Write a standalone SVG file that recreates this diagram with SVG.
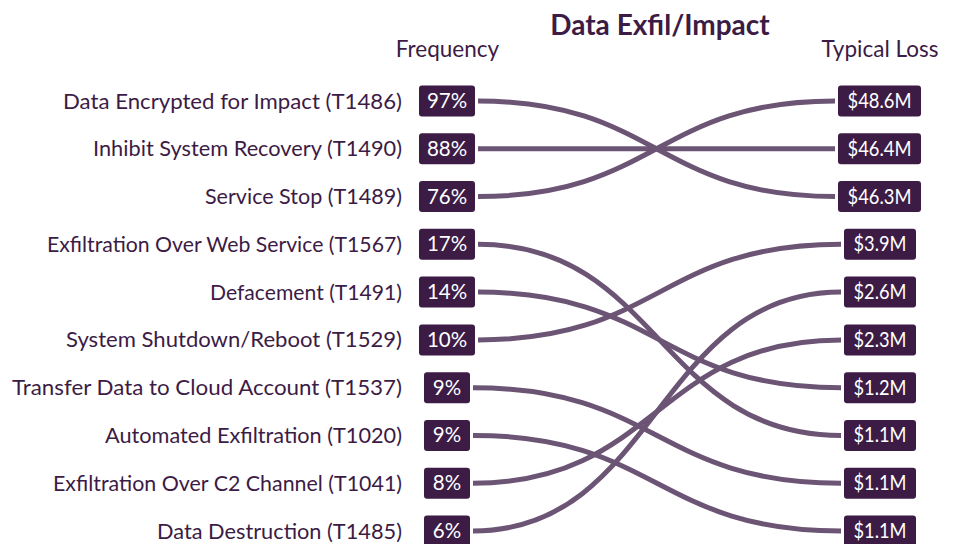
<svg xmlns="http://www.w3.org/2000/svg" width="958" height="544" viewBox="0 0 958 544">
<style>
text{font-family:Lato,"Source Sans Pro","Liberation Sans",sans-serif;}
.title{font-size:28px;font-weight:bold;fill:#3c1b45;text-anchor:middle;}
.head{font-size:22.5px;fill:#3c1b45;text-anchor:middle;}
.lbl{font-size:22px;fill:#3c1b45;text-anchor:end;}
.box{fill:#3c1b45;}
.val{font-size:20.5px;fill:#ffffff;text-anchor:middle;}
.link{fill:none;stroke:#6b5474;stroke-width:5;}
</style>
<rect width="958" height="544" fill="#ffffff"/>
<text class="title" x="660" y="35">Data Exfil/Impact</text>
<text class="head" x="447.5" y="57">Frequency</text>
<text class="head" x="880" y="57">Typical Loss</text>
<g id="connectors">
<path class="link" d="M478,101 C656.5,101 656.5,196.6 835,196.6"/>
<path class="link" d="M478,148.8 C656.5,148.8 656.5,148.8 835,148.8"/>
<path class="link" d="M478,196.6 C656.5,196.6 656.5,101 835,101"/>
<path class="link" d="M478,244.3 C659.5,244.3 659.5,435.4 841,435.4"/>
<path class="link" d="M478,292.1 C659.5,292.1 659.5,387.7 841,387.7"/>
<path class="link" d="M478,339.9 C659.5,339.9 659.5,244.3 841,244.3"/>
<path class="link" d="M473,387.7 C657,387.7 657,483.2 841,483.2"/>
<path class="link" d="M473,435.4 C657,435.4 657,531 841,531"/>
<path class="link" d="M473,483.2 C657,483.2 657,339.9 841,339.9"/>
<path class="link" d="M473,531 C657,531 657,292.1 841,292.1"/>
</g>
<g id="n-t1486"><text class="lbl" x="402" y="108.5" textLength="339" lengthAdjust="spacingAndGlyphs">Data Encrypted for Impact (T1486)</text><rect class="box" x="419" y="85.5" width="56" height="31" rx="3"/><text class="val" x="447" y="108">97%</text></g>
<g id="n-t1490"><text class="lbl" x="402" y="156.3" textLength="309" lengthAdjust="spacingAndGlyphs">Inhibit System Recovery (T1490)</text><rect class="box" x="419" y="133.3" width="56" height="31" rx="3"/><text class="val" x="447" y="155.8">88%</text></g>
<g id="n-t1489"><text class="lbl" x="402" y="204.1" textLength="197" lengthAdjust="spacingAndGlyphs">Service Stop (T1489)</text><rect class="box" x="419" y="181.1" width="56" height="31" rx="3"/><text class="val" x="447" y="203.6">76%</text></g>
<g id="n-t1567"><text class="lbl" x="402" y="251.8" textLength="355" lengthAdjust="spacingAndGlyphs">Exfiltration Over Web Service (T1567)</text><rect class="box" x="419" y="228.8" width="56" height="31" rx="3"/><text class="val" x="447" y="251.3">17%</text></g>
<g id="n-t1491"><text class="lbl" x="402" y="299.6" textLength="192" lengthAdjust="spacingAndGlyphs">Defacement (T1491)</text><rect class="box" x="419" y="276.6" width="56" height="31" rx="3"/><text class="val" x="447" y="299.1">14%</text></g>
<g id="n-t1529"><text class="lbl" x="402" y="347.4" textLength="336" lengthAdjust="spacingAndGlyphs">System Shutdown/Reboot (T1529)</text><rect class="box" x="419" y="324.4" width="56" height="31" rx="3"/><text class="val" x="447" y="346.9">10%</text></g>
<g id="n-t1537"><text class="lbl" x="402" y="395.2" textLength="390" lengthAdjust="spacingAndGlyphs">Transfer Data to Cloud Account (T1537)</text><rect class="box" x="424" y="372.2" width="46" height="31" rx="3"/><text class="val" x="447" y="394.7">9%</text></g>
<g id="n-t1020"><text class="lbl" x="402" y="442.9" textLength="297" lengthAdjust="spacingAndGlyphs">Automated Exfiltration (T1020)</text><rect class="box" x="424" y="419.9" width="46" height="31" rx="3"/><text class="val" x="447" y="442.4">9%</text></g>
<g id="n-t1041"><text class="lbl" x="402" y="490.7" textLength="349" lengthAdjust="spacingAndGlyphs">Exfiltration Over C2 Channel (T1041)</text><rect class="box" x="424" y="467.7" width="46" height="31" rx="3"/><text class="val" x="447" y="490.2">8%</text></g>
<g id="n-t1485"><text class="lbl" x="402" y="538.5" textLength="245" lengthAdjust="spacingAndGlyphs">Data Destruction (T1485)</text><rect class="box" x="424" y="515.5" width="46" height="31" rx="3"/><text class="val" x="447" y="538">6%</text></g>
<g id="r-0"><rect class="box" x="838" y="85.5" width="83" height="31" rx="3"/><text class="val" x="879.5" y="108" textLength="64" lengthAdjust="spacingAndGlyphs">$48.6M</text></g>
<g id="r-1"><rect class="box" x="838" y="133.3" width="83" height="31" rx="3"/><text class="val" x="879.5" y="155.8" textLength="64" lengthAdjust="spacingAndGlyphs">$46.4M</text></g>
<g id="r-2"><rect class="box" x="838" y="181.1" width="83" height="31" rx="3"/><text class="val" x="879.5" y="203.6" textLength="64" lengthAdjust="spacingAndGlyphs">$46.3M</text></g>
<g id="r-3"><rect class="box" x="844" y="228.8" width="72" height="31" rx="3"/><text class="val" x="880" y="251.3" textLength="53" lengthAdjust="spacingAndGlyphs">$3.9M</text></g>
<g id="r-4"><rect class="box" x="844" y="276.6" width="72" height="31" rx="3"/><text class="val" x="880" y="299.1" textLength="53" lengthAdjust="spacingAndGlyphs">$2.6M</text></g>
<g id="r-5"><rect class="box" x="844" y="324.4" width="72" height="31" rx="3"/><text class="val" x="880" y="346.9" textLength="53" lengthAdjust="spacingAndGlyphs">$2.3M</text></g>
<g id="r-6"><rect class="box" x="844" y="372.2" width="72" height="31" rx="3"/><text class="val" x="880" y="394.7" textLength="53" lengthAdjust="spacingAndGlyphs">$1.2M</text></g>
<g id="r-7"><rect class="box" x="844" y="419.9" width="72" height="31" rx="3"/><text class="val" x="880" y="442.4" textLength="53" lengthAdjust="spacingAndGlyphs">$1.1M</text></g>
<g id="r-8"><rect class="box" x="844" y="467.7" width="72" height="31" rx="3"/><text class="val" x="880" y="490.2" textLength="53" lengthAdjust="spacingAndGlyphs">$1.1M</text></g>
<g id="r-9"><rect class="box" x="844" y="515.5" width="72" height="31" rx="3"/><text class="val" x="880" y="538" textLength="53" lengthAdjust="spacingAndGlyphs">$1.1M</text></g>
</svg>
